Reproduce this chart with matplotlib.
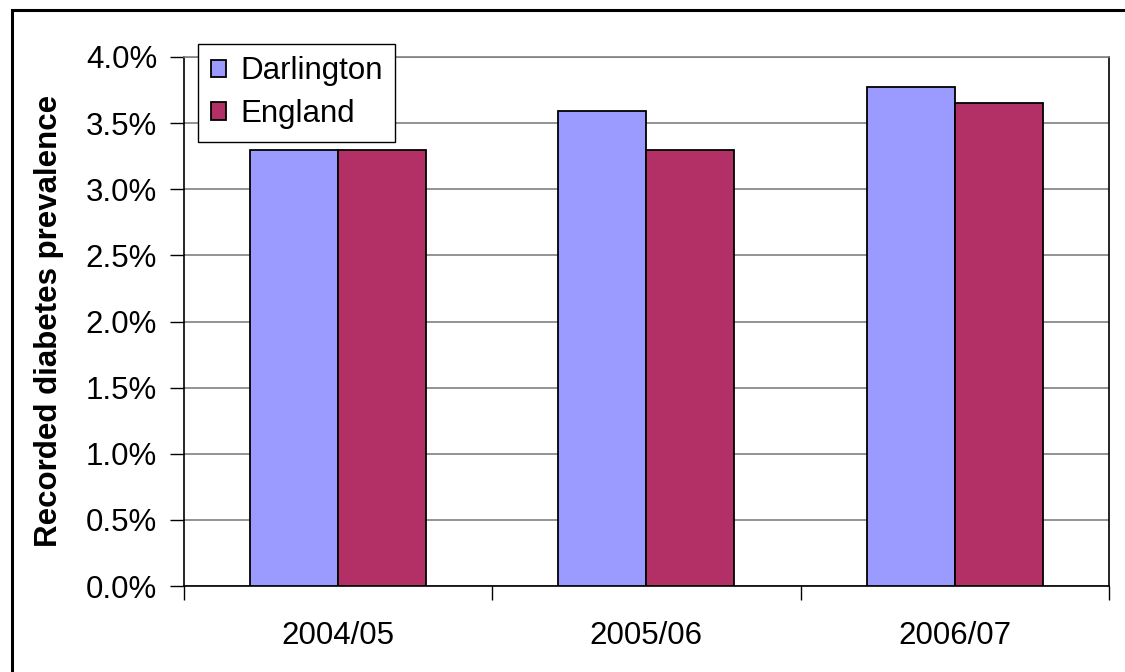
import matplotlib
matplotlib.use("Agg")
import matplotlib.pyplot as plt
import numpy as np
from matplotlib.patches import Rectangle
from matplotlib.ticker import FuncFormatter, MultipleLocator

plt.rcParams['font.family'] = ['Liberation Sans', 'DejaVu Sans']

categories = ["2004/05", "2005/06", "2006/07"]
darlington = [3.30, 3.59, 3.775]
england = [3.30, 3.30, 3.655]
series_names = ["Darlington", "England"]
colors = ["#9B9BFF", "#B23066"]

W, H = 1125, 672
FS = 22.5
fig = plt.figure(figsize=(W / 100, H / 100), dpi=100)

# plot area in pixel coordinates
left, right, top, bottom = 183.5, 1109, 57, 586
ax = fig.add_axes([left / W, 1 - bottom / H, (right - left) / W, (bottom - top) / H])

x = np.arange(len(categories))
bw = 1 / 3.5  # gap width 150%
ax.bar(x - bw / 2, darlington, width=bw, color=colors[0], edgecolor="black",
       linewidth=1.3, label=series_names[0], zorder=3)
ax.bar(x + bw / 2, england, width=bw, color=colors[1], edgecolor="black",
       linewidth=1.3, label=series_names[1], zorder=3)

ax.set_xlim(-0.5, len(categories) - 0.5)
ax.set_ylim(0, 4.0)
ax.yaxis.set_major_locator(MultipleLocator(0.5))
ax.yaxis.set_major_formatter(FuncFormatter(lambda v, p: f"{v:.1f}%"))
ax.grid(axis="y", color="#808080", linewidth=1.2, zorder=0)

ax.set_xticks(x)
ax.set_xticklabels(categories)
ax.set_xticks(np.arange(len(categories) + 1) - 0.5, minor=True)
ax.tick_params(axis="x", which="major", length=0, pad=25, labelsize=FS)
ax.tick_params(axis="x", which="minor", length=10, width=1, direction="out")
ax.tick_params(axis="y", length=10, width=1, direction="out", pad=9, labelsize=FS)

for s in ["left", "bottom", "right"]:
    ax.spines[s].set_color("black")
    ax.spines[s].set_linewidth(1.2)
ax.spines["top"].set_color("#808080")
ax.spines["top"].set_linewidth(1.2)

fig.text(49 / W, 1 - 321 / H, "Recorded diabetes prevalence", rotation=90,
         ha="center", va="center", fontsize=FS, fontweight="bold")

leg = ax.legend(loc="upper left",
                bbox_to_anchor=((198 - left) / (right - left), 1 + (57 - 44) / (bottom - top)),
                fontsize=FS, frameon=True, fancybox=False, edgecolor="black",
                framealpha=1, borderpad=0.4, handlelength=0.5, handleheight=0.5,
                handletextpad=0.45, labelspacing=0.4, borderaxespad=0)
leg.get_frame().set_linewidth(1.0)
leg.set_zorder(5)

# outer chart border
fig.patches.append(Rectangle((12 / W, -0.05), 1.1, 1 - 10 / H + 0.05, transform=fig.transFigure,
                             fill=False, edgecolor="black", linewidth=2.2))

fig.savefig("out.png", dpi=100)
